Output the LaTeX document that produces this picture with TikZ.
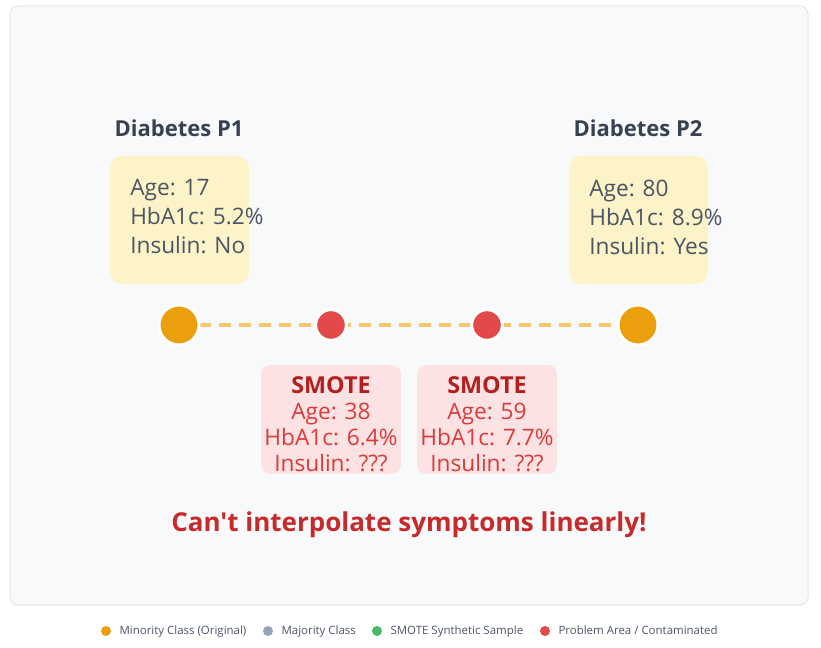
\documentclass[tikz,border=0pt]{standalone}
\usepackage{fontspec}
\setmainfont{Open Sans}[Ligatures=TeXOff]
\usepackage{tikz}
\usetikzlibrary{positioning,calc}

\definecolor{panelbg}{HTML}{F8F9FB}
\definecolor{panelrim}{HTML}{E3E6EA}
\definecolor{titlegray}{HTML}{374151}
\definecolor{textgray}{HTML}{4B5563}
\definecolor{boxyellow}{HTML}{FDF3C8}
\definecolor{linkamber}{HTML}{F6C76E}
\definecolor{minorange}{HTML}{EB9F0C}
\definecolor{probred}{HTML}{E24A4A}
\definecolor{boxpink}{HTML}{FCE2E3}
\definecolor{darkred}{HTML}{B31E1E}
\definecolor{softred}{HTML}{D93B3B}
\definecolor{headred}{HTML}{C62A2A}
\definecolor{majgray}{HTML}{97A3BA}
\definecolor{smotegreen}{HTML}{48BB6A}
\definecolor{legendgray}{HTML}{4A5568}

\pgfdeclarelayer{panel}
\pgfdeclarelayer{lines}
\pgfsetlayers{panel,lines,main}

\tikzset{
  patbox/.style={fill=boxyellow,rounded corners=9pt,minimum width=104.25pt,minimum height=96pt,inner sep=0pt},
  smotebox/.style={fill=boxpink,rounded corners=7pt,minimum width=105pt,minimum height=81.75pt,inner sep=0pt},
  origdot/.style={circle,fill=minorange,draw=white,line width=2.25pt,minimum size=30pt,inner sep=0pt},
  synthdot/.style={circle,fill=probred,draw=white,line width=2.25pt,minimum size=23pt,inner sep=0pt},
  legdot/.style={circle,minimum size=7.5pt,inner sep=0pt},
  legtext/.style={anchor=west,inner sep=0pt,text height=6.4pt,text depth=1.9pt,font=\fontsize{8.6}{10}\selectfont,text=legendgray}
}

\begin{document}
\begin{tikzpicture}[x=0.75pt,y=-0.75pt]
  \useasboundingbox (0,0) rectangle (821,648);
  \begin{pgfonlayer}{panel}
    \draw[fill=panelbg,draw=panelrim,line width=0.75pt,rounded corners=6pt] (10,6) rectangle (808,605);
  \end{pgfonlayer}

  % patients
  \node[font=\bfseries\fontsize{16.5}{19}\selectfont,text=titlegray] (title1) at (179,128) {Diabetes P1};
  \node[font=\bfseries\fontsize{16.5}{19}\selectfont,text=titlegray] (title2) at (638,128) {Diabetes P2};
  \node[patbox] (box1) at (179.5,220) {};
  \node[patbox] (box2) at (638.5,220) {};
  \node[anchor=west,inner sep=0pt,align=left,text=textgray,font=\fontsize{17}{21.75}\selectfont] (info1) at (130,217)
    {Age: 17\\HbA1c: 5.2\%\\Insulin: No};
  \node[anchor=west,inner sep=0pt,align=left,text=textgray,font=\fontsize{17}{21.75}\selectfont] (info2) at (589,217)
    {Age: 80\\HbA1c: 8.9\%\\Insulin: Yes};

  % points on the line
  \node[origdot] (p1) at (179,325) {};
  \node[synthdot] (s1) at (331,325) {};
  \node[synthdot] (s2) at (487,325) {};
  \node[origdot] (p2) at (638,325) {};
  \begin{pgfonlayer}{lines}
    \draw[linkamber,line width=3pt,dash pattern=on 9pt off 6pt] (p1.center) -- (p2.center);
  \end{pgfonlayer}

  % synthetic samples
  \node[smotebox] (sbox1) at (331,419.5) {};
  \node[smotebox] (sbox2) at (487,419.5) {};
  \foreach \b/\a/\h in {sbox1/38/6.4,sbox2/59/7.7}
    \node[align=center,inner sep=0pt,text=softred,font=\fontsize{17}{19.5}\selectfont] (\b-txt) at ($(\b)+(0,5)$)
      {\textcolor{darkred}{\bfseries\fontsize{17.5}{19.5}\selectfont SMOTE}\\Age: \a\\HbA1c: \h\%\\Insulin: ???};

  \node[font=\bfseries\fontsize{19.5}{23}\selectfont,text=headred] (warn) at (409,525) {Can't interpolate symptoms linearly!};

  % legend
  \node[legdot,fill=minorange] (lg1) at (106,631) {};
  \node[legtext,right=6pt of lg1] (lt1) {Minority Class (Original)};
  \node[legdot,fill=majgray] (lg2) at (268,631) {};
  \node[legtext,right=6pt of lg2] (lt2) {Majority Class};
  \node[legdot,fill=smotegreen] (lg3) at (377,631) {};
  \node[legtext,right=6pt of lg3] (lt3) {SMOTE Synthetic Sample};
  \node[legdot,fill=probred] (lg4) at (545,631) {};
  \node[legtext,right=6pt of lg4] (lt4) {Problem Area / Contaminated};
\end{tikzpicture}
\end{document}
